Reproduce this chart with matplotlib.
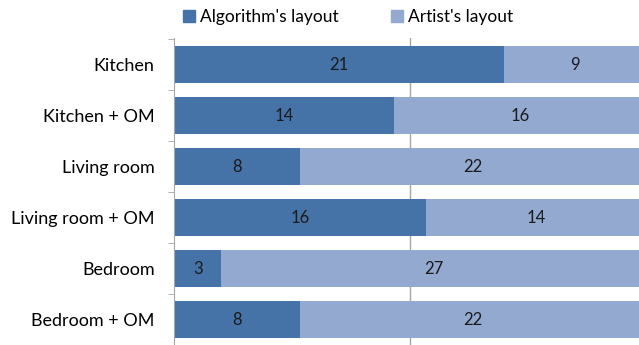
import numpy as np
import matplotlib.pyplot as plt
from matplotlib.patches import Patch

categories = ["Kitchen", "Kitchen + OM", "Living room", "Living room + OM", "Bedroom", "Bedroom + OM"]
algorithm = [21, 14, 8, 16, 3, 8]
artist = [9, 16, 22, 14, 27, 22]

dark = "#4673a7"
light = "#93a9cf"
grid_col = "#a6a6a6"

plt.rcParams['font.family'] = ['Lato', 'DejaVu Sans']

fig = plt.figure(figsize=(6.39, 3.45), dpi=100)
# axes spans from x=174px to the right edge, top at y=38px
ax = fig.add_axes([174 / 639, 0, 1 - 174 / 639, (345 - 38) / 345])

y = np.arange(len(categories))
ax.barh(y, algorithm, height=0.72, color=dark)
ax.barh(y, artist, left=algorithm, height=0.72, color=light)

# segment labels
for i in range(len(categories)):
    ax.text(algorithm[i] / 2, y[i], str(algorithm[i]), ha='center', va='center',
            fontsize=12, color='#1a1a1a')
    ax.text(algorithm[i] + artist[i] / 2, y[i], str(artist[i]), ha='center', va='center',
            fontsize=12, color='#1a1a1a')

ax.set_xlim(0, 29.56)
ax.set_ylim(5.47, -0.525)
ax.set_xticks([15])
ax.xaxis.grid(True, color=grid_col, linewidth=1)
ax.set_axisbelow(True)
ax.tick_params(axis='x', length=0, labelbottom=False)

ax.set_yticks(y)
ax.set_yticklabels(categories, fontsize=13)
ax.tick_params(axis='y', length=0, pad=14)
ax.set_yticks(np.arange(-0.5, 6, 1), minor=True)
ax.tick_params(axis='y', which='minor', length=4, color=grid_col)

for s in ['top', 'right', 'bottom']:
    ax.spines[s].set_visible(False)
ax.spines['left'].set_color(grid_col)

handles = [Patch(color=dark), Patch(color=light)]
fig.legend(handles, ["Algorithm's layout", "Artist's layout"], loc='center',
           bbox_to_anchor=(0.545, 0.95), ncol=2, frameon=False, fontsize=12.5,
           handlelength=0.7, handleheight=0.7, handletextpad=0.3, columnspacing=3.0)

fig.savefig("out.png", dpi=100)
